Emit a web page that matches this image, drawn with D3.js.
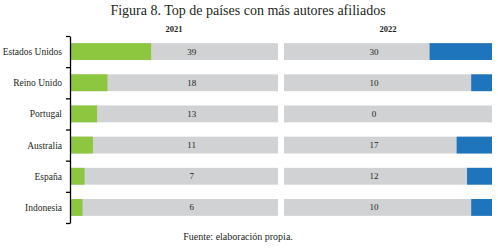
<!DOCTYPE html>
<html>
<head>
<meta charset="utf-8">
<script src="https://cdn.jsdelivr.net/npm/d3@7"></script>
<style>
  body { margin: 0; background: #fff; }
  text { font-family: "Liberation Serif", "DejaVu Serif", serif; fill: #231f20; }
</style>
</head>
<body>
<svg id="chart" width="498" height="248"></svg>
<script>
// datos
var countries = ["Estados Unidos", "Reino Unido", "Portugal", "Australia", "España", "Indonesia"]
var years = ["2021", "2022"]
var values2021 = [39, 18, 13, 11, 7, 6]
var values2022 = [30, 10, 0, 17, 12, 10]

var width = 498, height = 248
var svg = d3.select("#chart")

var colors = new Map().set("2021", "#8dc63f").set("2022", "#1f75bc")
var bg = "#d1d2d4"

// escalas
var y = d3.scaleBand()
  .domain(countries)
  .range([36, 223])
  .paddingInner(0.46)
  .paddingOuter(0.23)

var xLeft = d3.scaleLinear().domain([0, 100]).range([70, 278])
var xRight = d3.scaleLinear().domain([0, 100]).range([492, 284])

// titulo
svg.append("text")
  .attr("x", 248).attr("y", 14.5)
  .attr("text-anchor", "middle")
  .style("font-size", "14px")
  .text("Figura 8. Top de países con más autores afiliados")

// encabezados de años
svg.append("text")
  .attr("x", (xLeft(0) + xLeft(100)) / 2).attr("y", 32)
  .attr("text-anchor", "middle")
  .style("font-size", "8.5px").style("font-weight", "bold")
  .text(years[0])
svg.append("text")
  .attr("x", (xRight(0) + xRight(100)) / 2).attr("y", 32)
  .attr("text-anchor", "middle")
  .style("font-size", "8.5px").style("font-weight", "bold")
  .text(years[1])

// panel izquierdo
var left = svg.append("g")
left.selectAll("rect.bg")
  .data(countries)
  .join("rect")
    .attr("class", "bg")
    .attr("x", xLeft(0))
    .attr("y", d => y(d))
    .attr("width", xLeft(100) - xLeft(0))
    .attr("height", y.bandwidth())
    .attr("fill", bg)
left.selectAll("rect.val")
  .data(values2021)
  .join("rect")
    .attr("class", "val")
    .attr("x", xLeft(0))
    .attr("y", (d, i) => y(countries[i]))
    .attr("width", d => xLeft(d) - xLeft(0))
    .attr("height", y.bandwidth())
    .attr("fill", colors.get("2021"))
left.selectAll("text")
  .data(values2021)
  .join("text")
    .attr("x", xLeft(58.5))
    .attr("y", (d, i) => y(countries[i]) + y.bandwidth() / 2 + 3)
    .attr("text-anchor", "middle")
    .style("font-size", "9px")
    .text(d => d)

// panel derecho
var right = svg.append("g")
right.selectAll("rect.bg")
  .data(countries)
  .join("rect")
    .attr("class", "bg")
    .attr("x", xRight(100))
    .attr("y", d => y(d))
    .attr("width", xRight(0) - xRight(100))
    .attr("height", y.bandwidth())
    .attr("fill", bg)
right.selectAll("rect.val")
  .data(values2022)
  .join("rect")
    .attr("class", "val")
    .attr("x", d => xRight(d))
    .attr("y", (d, i) => y(countries[i]))
    .attr("width", d => xRight(0) - xRight(d))
    .attr("height", y.bandwidth())
    .attr("fill", colors.get("2022"))
right.selectAll("text")
  .data(values2022)
  .join("text")
    .attr("x", xRight(56.7))
    .attr("y", (d, i) => y(countries[i]) + y.bandwidth() / 2 + 3)
    .attr("text-anchor", "middle")
    .style("font-size", "9px")
    .text(d => d)

// eje con marcas entre categorias
var yEdges = d3.scaleLinear().domain([0, countries.length]).range([36, 223])
svg.append("g")
  .attr("transform", `translate(${xLeft(0)},0)`)
  .call(d3.axisLeft(yEdges).tickValues(d3.range(countries.length + 1)).tickFormat("").tickSize(4).tickSizeOuter(0))
  .call(g => g.selectAll("line, path").attr("stroke", "#000").attr("stroke-width", 1.3))

// etiquetas de paises
svg.append("g").selectAll("text")
  .data(countries)
  .join("text")
    .attr("x", 62)
    .attr("y", d => y(d) + y.bandwidth() / 2 + 3.5)
    .attr("text-anchor", "end")
    .style("font-size", "9.5px")
    .text(d => d)

// fuente
svg.append("text")
  .attr("x", 238).attr("y", 240)
  .attr("text-anchor", "middle")
  .style("font-size", "10px")
  .text("Fuente: elaboración propia.")
</script>
</body>
</html>
